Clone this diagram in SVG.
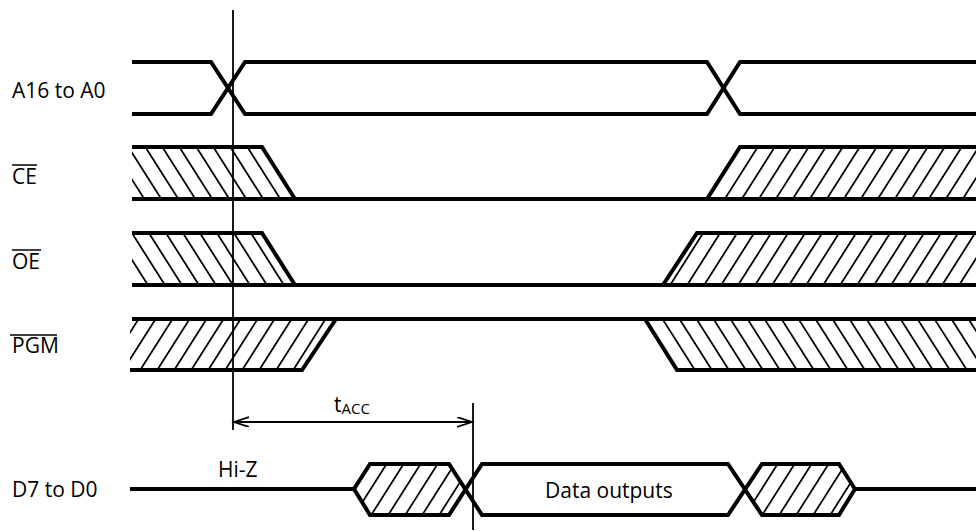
<svg xmlns="http://www.w3.org/2000/svg" width="976" height="531" viewBox="0 0 976 531">
<style>
.lbl{font-family:"Open Sans","Liberation Sans",sans-serif;font-size:21px;fill:#000}
.wave{fill:none;stroke:#000;stroke-width:4;stroke-linejoin:miter;stroke-linecap:butt}
.ovl{stroke:#000;stroke-width:1.5}
.ref{stroke:#000;stroke-width:1.8;fill:none}
.hb{fill:url(#hatchBack);stroke:none}
.hf{fill:url(#hatchFwd);stroke:none}
</style>
<defs>
<pattern id="hatchBack" patternUnits="userSpaceOnUse" width="17" height="10" patternTransform="skewX(32.4)">
<rect x="0" y="0" width="2.1" height="10" fill="#000"/>
</pattern>
<pattern id="hatchFwd" patternUnits="userSpaceOnUse" width="17" height="10" patternTransform="skewX(-32.4)">
<rect x="0" y="0" width="2.1" height="10" fill="#000"/>
</pattern>
<marker id="arr" markerUnits="userSpaceOnUse" markerWidth="18" markerHeight="12" refX="15" refY="5" orient="auto-start-reverse" viewBox="0 0 18 12">
<path d="M0,0 L15,5 L0,10" fill="none" stroke="#000" stroke-width="1.8"/>
</marker>
</defs>
<rect width="976" height="531" fill="#fff"/>

<g id="sig-addr">
<text class="lbl" x="12" y="98">A16 to A0</text>
<path class="wave" d="M132,62 H211 L245,114 H707 L740,62 H976"/>
<path class="wave" d="M132,114 H211 L245,62 H707 L740,114 H976"/>
</g>

<g id="sig-ce">
<text class="lbl" x="12" y="184">CE</text>
<line class="ovl" x1="12" y1="165" x2="37" y2="165"/>
<polygon class="hb" points="132,147 262,147 295,199 132,199"/>
<polygon class="hf" points="707,199 740,147 976,147 976,199"/>
<path class="wave" d="M132,199 H976"/>
<path class="wave" d="M132,147 H262 L295,199"/>
<path class="wave" d="M707,199 L740,147 H976"/>
</g>

<g id="sig-oe">
<text class="lbl" x="12" y="269">OE</text>
<line class="ovl" x1="12" y1="250" x2="41" y2="250"/>
<polygon class="hb" points="132,233 262,233 295,285 132,285"/>
<polygon class="hf" points="663,285 697,233 976,233 976,285"/>
<path class="wave" d="M132,285 H976"/>
<path class="wave" d="M132,233 H262 L295,285"/>
<path class="wave" d="M663,285 L697,233 H976"/>
</g>

<g id="sig-pgm">
<text class="lbl" x="12" y="353">PGM</text>
<line class="ovl" x1="10" y1="335" x2="57" y2="335"/>
<polygon class="hf" points="130,319 336,319 302,370 130,370"/>
<polygon class="hb" points="645,319 976,319 976,370 677,370"/>
<path class="wave" d="M132,319 H976"/>
<path class="wave" d="M130,370 H302 L336,319"/>
<path class="wave" d="M645,319 L677,370 H976"/>
</g>

<g id="sig-data">
<text class="lbl" x="12" y="497">D7 to D0</text>
<text class="lbl" x="218" y="477">Hi-Z</text>
<text class="lbl" x="545" y="498">Data outputs</text>
<polygon class="hf" points="354,489 370,464 449,464 465.5,489 449,515 370,515"/>
<polygon class="hf" points="745,489 762,464 839,464 855,489 839,515 762,515"/>
<path class="wave" d="M130,489 H354 L370,464 H449 L482,515 H728 L762,464 H839 L855,489 H976"/>
<path class="wave" d="M354,489 L370,515 H449 L482,464 H728 L762,515 H839 L855,489"/>
</g>

<g id="connectors">
<line class="ref" x1="233" y1="10" x2="233" y2="430"/>
<line class="ref" x1="473" y1="403" x2="473" y2="530"/>
<line class="ref" x1="234" y1="422" x2="472" y2="422" marker-start="url(#arr)" marker-end="url(#arr)"/>
<text class="lbl" x="334" y="412" font-size="20">t<tspan font-size="15" dy="2">ACC</tspan></text>
</g>
</svg>
